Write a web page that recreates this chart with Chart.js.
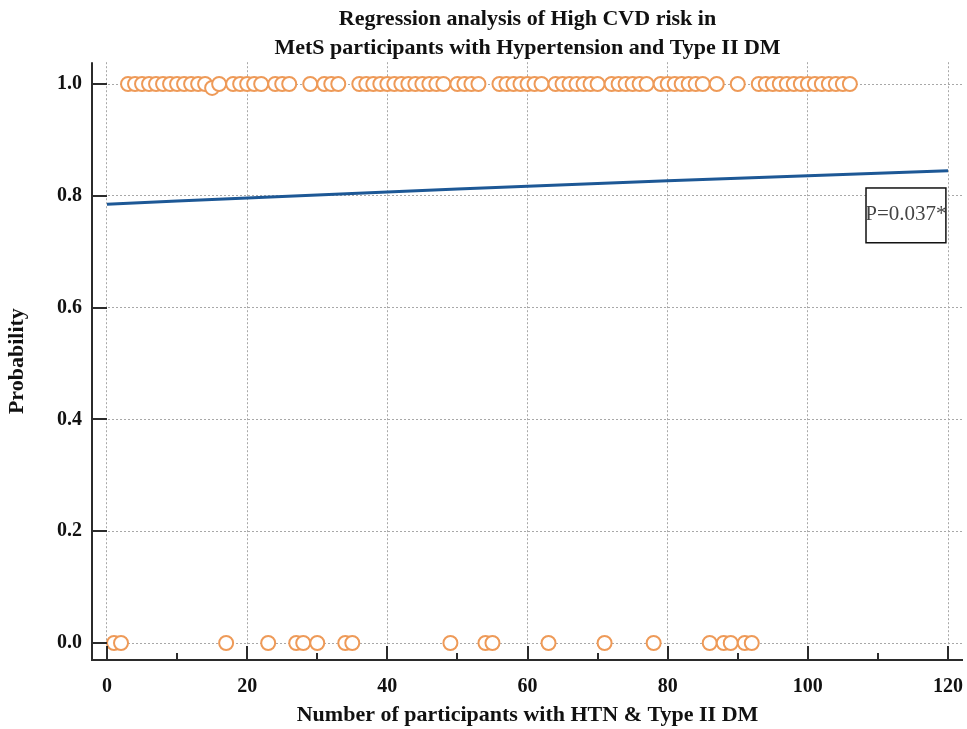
<!DOCTYPE html>
<html>
<head>
<meta charset="utf-8">
<script src="https://cdn.jsdelivr.net/npm/chart.js@4/dist/chart.umd.min.js"></script>
<style>
html,body{margin:0;padding:0;background:#fff;}
#wrap{width:967px;height:729px;}
</style>
</head>
<body>
<div id="wrap"><canvas id="c" width="967" height="729"></canvas></div>
<script>
// ---- Chart text ----
const titleLines = ['Regression analysis of High CVD risk in', 'MetS participants with Hypertension and Type II DM'];
const xAxisTitle = 'Number of participants with HTN & Type II DM';
const yAxisTitle = 'Probability';
const pLabel = 'P=0.037*';

// ---- Tick labels ----
const xTickValues = [0, 20, 40, 60, 80, 100, 120];
const xMinorTickValues = [10, 30, 50, 70, 90, 110];
const yTickValues = [0.0, 0.2, 0.4, 0.6, 0.8, 1.0];

// ---- Observations with high CVD risk (outcome = 1) ----
const highRiskX = [3,4,5,6,7,8,9,10,11,12,13,14,15,16,18,19,20,21,22,24,25,26,29,31,32,33,
  36,37,38,39,40,41,42,43,44,45,46,47,48,50,51,52,53,56,57,58,59,60,61,62,64,65,66,67,68,69,70,
  72,73,74,75,76,77,79,80,81,82,83,84,85,87,90,93,94,95,96,97,98,99,100,101,102,103,104,105,106];
const highRiskY = [1,1,1,1,1,1,1,1,1,1,1,1,0.993,1,1,1,1,1,1,1,1,1,1,1,1,1,
  1,1,1,1,1,1,1,1,1,1,1,1,1,1,1,1,1,1,1,1,1,1,1,1,1,1,1,1,1,1,1,
  1,1,1,1,1,1,1,1,1,1,1,1,1,1,1,1,1,1,1,1,1,1,1,1,1,1,1,1,1,1];

// ---- Observations without high CVD risk (outcome = 0) ----
const lowRiskX = [1,2,17,23,27,28,30,34,35,49,54,55,63,71,78,86,88,89,91,92];
const lowRiskY = [0,0,0,0,0,0,0,0,0,0,0,0,0,0,0,0,0,0,0,0];

// ---- Fitted logistic regression curve ----
const fitX = [0, 20, 40, 60, 80, 100, 120];
const fitY = [0.785, 0.796, 0.807, 0.817, 0.827, 0.836, 0.845];

// ---- P-value box (data coordinates) ----
const pBox = {x0: 108.3, x1: 119.7, y0: 0.716, y1: 0.814, tx: 114.0, ty: 0.766};

const serif = "'Liberation Serif', 'DejaVu Serif', serif";

const axesPlugin = {
  id: 'customAxes',
  afterDatasetsDraw(chart) {
    const {ctx, chartArea: a, scales: {x, y}} = chart;
    ctx.save();
    ctx.strokeStyle = '#2b2b2b';
    ctx.lineWidth = 2;
    ctx.beginPath();
    ctx.moveTo(a.left, a.top);
    ctx.lineTo(a.left, a.bottom);
    ctx.lineTo(a.right, a.bottom);
    ctx.stroke();
    ctx.beginPath();
    yTickValues.forEach(v => {
      const py = Math.round(y.getPixelForValue(v));
      ctx.moveTo(a.left, py);
      ctx.lineTo(a.left + 15, py);
    });
    xTickValues.forEach(v => {
      const px = Math.round(x.getPixelForValue(v));
      ctx.moveTo(px, a.bottom);
      ctx.lineTo(px, a.bottom - 14);
    });
    xMinorTickValues.forEach(v => {
      const px = Math.round(x.getPixelForValue(v));
      ctx.moveTo(px, a.bottom);
      ctx.lineTo(px, a.bottom - 7);
    });
    ctx.stroke();

    // P-value box
    const bx0 = x.getPixelForValue(pBox.x0), bx1 = x.getPixelForValue(pBox.x1);
    const by0 = y.getPixelForValue(pBox.y1), by1 = y.getPixelForValue(pBox.y0);
    ctx.fillStyle = '#fff';
    ctx.fillRect(bx0, by0, bx1 - bx0, by1 - by0);
    ctx.strokeStyle = '#111';
    ctx.lineWidth = 1.5;
    ctx.strokeRect(bx0, by0, bx1 - bx0, by1 - by0);
    ctx.font = "21px " + serif;
    ctx.fillStyle = '#444';
    ctx.textAlign = 'center';
    ctx.textBaseline = 'middle';
    ctx.fillText(pLabel, x.getPixelForValue(pBox.tx), y.getPixelForValue(pBox.ty));
    ctx.restore();
  }
};

new Chart(document.getElementById('c'), {
  type: 'scatter',
  data: {
    datasets: [
      {
        type: 'line',
        label: 'Fitted probability',
        data: fitX.map((v, i) => ({x: v, y: fitY[i]})),
        borderColor: '#1d5896',
        borderWidth: 3,
        pointRadius: 0,
        fill: false,
        tension: 0.3
      },
      {
        label: 'High CVD risk',
        data: highRiskX.map((v, i) => ({x: v, y: highRiskY[i]})),
        pointRadius: 7,
        pointBackgroundColor: '#ffffff',
        pointBorderColor: '#EE9A58',
        pointBorderWidth: 2
      },
      {
        label: 'No high CVD risk',
        data: lowRiskX.map((v, i) => ({x: v, y: lowRiskY[i]})),
        pointRadius: 7,
        pointBackgroundColor: '#ffffff',
        pointBorderColor: '#EE9A58',
        pointBorderWidth: 2
      }
    ]
  },
  options: {
    responsive: false,
    animation: false,
    devicePixelRatio: 1,
    layout: {autoPadding: false, padding: {left: 0, right: 4, top: 0, bottom: 0}},
    plugins: {
      legend: {display: false},
      tooltip: {enabled: false},
      title: {
        display: true,
        text: titleLines,
        fullSize: false,
        color: '#111',
        font: {family: serif, size: 22, weight: 'bold', lineHeight: 1.3},
        padding: {top: 5, bottom: 0}
      }
    },
    scales: {
      x: {
        type: 'linear',
        min: -2.14,
        max: 122.14,
        afterBuildTicks: s => { s.ticks = xTickValues.map(v => ({value: v})); },
        afterFit: s => { s.height = 69; },
        grid: {color: '#a8a8a8', lineWidth: 1, drawTicks: true, tickLength: 15, tickColor: 'rgba(0,0,0,0)'},
        border: {display: false, dash: [2, 2]},
        ticks: {
          padding: 0,
          color: '#111',
          font: {family: serif, size: 20, weight: 'bold'},
          maxRotation: 0,
          callback: v => String(v)
        },
        title: {
          display: true,
          text: xAxisTitle,
          color: '#111',
          font: {family: serif, size: 22, weight: 'bold', lineHeight: 1.2},
          padding: {top: 0, bottom: 0}
        }
      },
      y: {
        type: 'linear',
        min: -0.0304,
        max: 1.039,
        afterBuildTicks: s => { s.ticks = yTickValues.map(v => ({value: v})); },
        afterFit: s => { s.width = 92; },
        grid: {color: '#a8a8a8', lineWidth: 1, drawTicks: false},
        border: {display: false, dash: [2, 2]},
        ticks: {
          padding: 10,
          color: '#111',
          font: {family: serif, size: 20, weight: 'bold'},
          callback: v => Number(v).toFixed(1)
        },
        title: {
          display: true,
          text: yAxisTitle,
          color: '#111',
          font: {family: serif, size: 22, weight: 'bold', lineHeight: 1.2},
          padding: {top: 4, bottom: 0}
        }
      }
    }
  },
  plugins: [axesPlugin]
});
</script>
</body>
</html>
